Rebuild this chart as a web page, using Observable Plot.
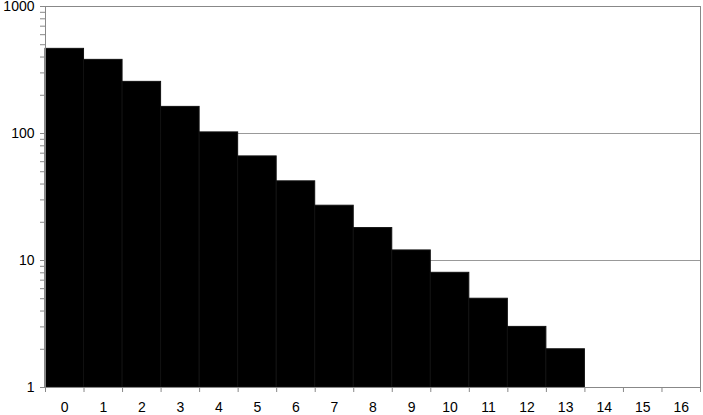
<!DOCTYPE html>
<html>
<head>
<meta charset="utf-8">
<script src="https://cdn.jsdelivr.net/npm/d3@7"></script>
<script src="https://cdn.jsdelivr.net/npm/@observablehq/plot@0.6"></script>
<style>
  html, body { margin: 0; padding: 0; background: #fff; }
  #chart svg { display: block; }
</style>
</head>
<body>
<div id="chart"></div>
<script>
const categories = ["0","1","2","3","4","5","6","7","8","9","10","11","12","13","14","15","16"];
const counts = [464, 380, 255, 162, 102, 66, 42, 27, 18, 12, 8, 5, 3, 2, null, null, null];
const yMajorTicks = [1, 10, 100, 1000];
const yMinorTicks = [2,3,4,5,6,7,8,9,20,30,40,50,60,70,80,90,200,300,400,500,600,700,800,900];
const yGridLines = [10, 100];

const data = categories.map((c, i) => ({cat: c, i, value: counts[i]})).filter(d => d.value != null);
const boundaries = d3.range(categories.length + 1);
const centers = categories.map((c, i) => i + 0.5);

const chart = Plot.plot({
  width: 703,
  height: 415,
  marginLeft: 45,
  marginRight: 3,
  marginTop: 6,
  marginBottom: 28,
  style: {fontFamily: "'Liberation Sans', Arial, sans-serif", fontSize: "14px", background: "#fff", color: "#000"},
  x: {type: "linear", domain: [0, categories.length], axis: null},
  y: {type: "log", domain: [1, 1000], axis: null},
  marks: [
    Plot.gridY(yGridLines, {stroke: "#999", strokeOpacity: 1}),
    Plot.rectY(data, {x1: "i", x2: d => d.i + 1, y1: 1, y2: "value", fill: "#000", stroke: "#111", strokeWidth: 1}),
    Plot.frame({stroke: "#888", strokeOpacity: 1}),
    Plot.axisY(yMinorTicks, {tickSize: 5, tickFormat: () => "", stroke: "#888", label: null}),
    Plot.axisY(yMajorTicks, {tickSize: 5, tickPadding: 6, tickFormat: d => String(d), stroke: "#888", fill: "#000", label: null}),
    Plot.axisX(boundaries, {tickSize: 5, tickFormat: () => "", stroke: "#888", label: null}),
    Plot.axisX(centers, {tickSize: 0, tickPadding: 15, tickFormat: d => categories[Math.round(d - 0.5)], fill: "#000", label: null})
  ]
});
document.getElementById("chart").appendChild(chart);
</script>
</body>
</html>
